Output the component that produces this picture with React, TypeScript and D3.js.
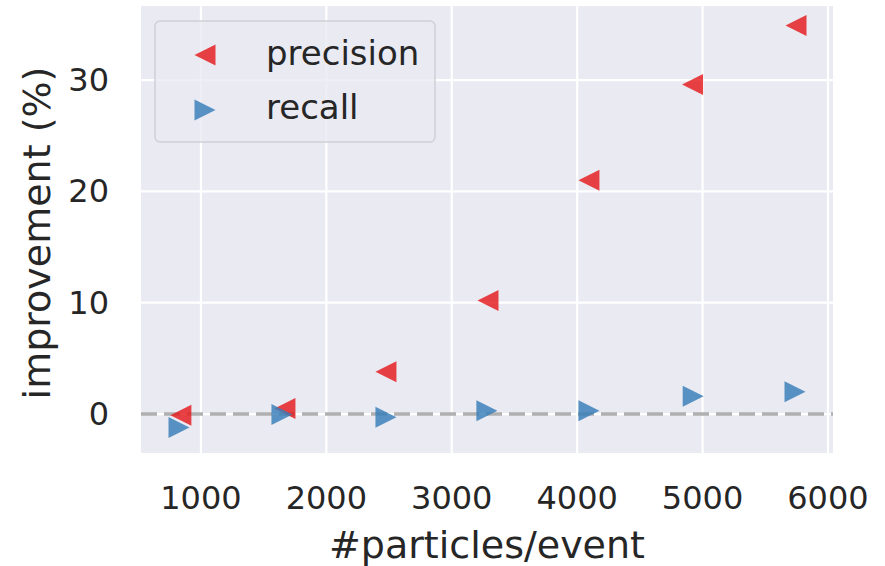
import { useEffect } from "react";
import * as d3 from "d3";

const particles = [840, 1670, 2475, 3289, 4094, 4920, 5745];
const particlesRecall = [825, 1646, 2475, 3280, 4094, 4925, 5737];
const precision = [-0.1, 0.5, 3.8, 10.2, 21.0, 29.6, 34.9];
const recall = [-1.2, -0.05, -0.3, 0.3, 0.3, 1.6, 2.0];
const xTicks = [1000, 2000, 3000, 4000, 5000, 6000];
const yTicks = [0, 10, 20, 30];

const W = 885;
const H = 566;
const M = { left: 141, right: 833, top: 6, bottom: 453 };
const FONT = "DejaVu Sans";
const TEXT = "#262626";

// matplotlib-style triangle, size = full width/height
function tri(dir: "left" | "right", s: number) {
  const h = s / 2;
  return dir === "left"
    ? `M${-h},0L${h},${-h}L${h},${h}Z`
    : `M${h},0L${-h},${-h}L${-h},${h}Z`;
}

export default function App() {
  useEffect(() => {
    document.body.style.margin = "0";
  }, []);

  const x = d3.scaleLinear().domain([522, 6040]).range([M.left, M.right]);
  const y = d3.scaleLinear().domain([-3.5, 36.65]).range([M.bottom, M.top]);

  const precPts = particles.map((p, i) => ({ x: p, y: precision[i] }));
  const recPts = particlesRecall.map((p, i) => ({ x: p, y: recall[i] }));

  return (
    <svg width={W} height={H} style={{ display: "block" }} fontFamily={FONT}>
      <rect x={M.left} y={M.top} width={M.right - M.left} height={M.bottom - M.top} fill="#eaeaf2" />
      {xTicks.map((t) => (
        <line key={"gx" + t} x1={x(t)} x2={x(t)} y1={M.top} y2={M.bottom} stroke="#fff" strokeWidth={2.2} />
      ))}
      {yTicks.map((t) => (
        <line key={"gy" + t} x1={M.left} x2={M.right} y1={y(t)} y2={y(t)} stroke="#fff" strokeWidth={2.2} />
      ))}
      <line x1={M.left} x2={M.right} y1={y(0)} y2={y(0)} stroke="#b0b0b0" strokeWidth={3.5} strokeDasharray="16 7" />

      {precPts.map((d, i) => (
        <path key={"p" + i} d={tri("left", 21)} transform={`translate(${x(d.x)},${y(d.y)})`} fill="#e41a1c" fillOpacity={0.82} />
      ))}
      {recPts.map((d, i) => (
        <path key={"r" + i} d={tri("right", 21)} transform={`translate(${x(d.x)},${y(d.y)})`} fill="#377eb8" fillOpacity={0.82} />
      ))}

      {xTicks.map((t) => (
        <text key={"tx" + t} x={x(t)} y={498} textAnchor="middle" dominantBaseline="central" fontSize={32} fill={TEXT}>
          {t}
        </text>
      ))}
      {yTicks.map((t) => (
        <text key={"ty" + t} x={109} y={y(t)} textAnchor="end" dominantBaseline="central" fontSize={32} fill={TEXT}>
          {t}
        </text>
      ))}
      <text x={487} y={558} textAnchor="middle" fontSize={38} fill={TEXT}>
        #particles/event
      </text>
      <text transform="translate(50,233) rotate(-90)" textAnchor="middle" fontSize={38} fill={TEXT}>
        improvement (%)
      </text>

      {/* legend */}
      <rect x={155} y={21} width={280} height={121} rx={5} fill="#eaeaf2" fillOpacity={0.8} stroke="#cfcfd6" strokeWidth={1.5} />
      <path d={tri("left", 21)} transform="translate(205,55)" fill="#e41a1c" fillOpacity={0.82} />
      <path d={tri("right", 21)} transform="translate(205,110)" fill="#377eb8" fillOpacity={0.82} />
      <text x={266} y={53} dominantBaseline="central" fontSize={34} fill={TEXT}>precision</text>
      <text x={266} y={107} dominantBaseline="central" fontSize={34} fill={TEXT}>recall</text>
    </svg>
  );
}
